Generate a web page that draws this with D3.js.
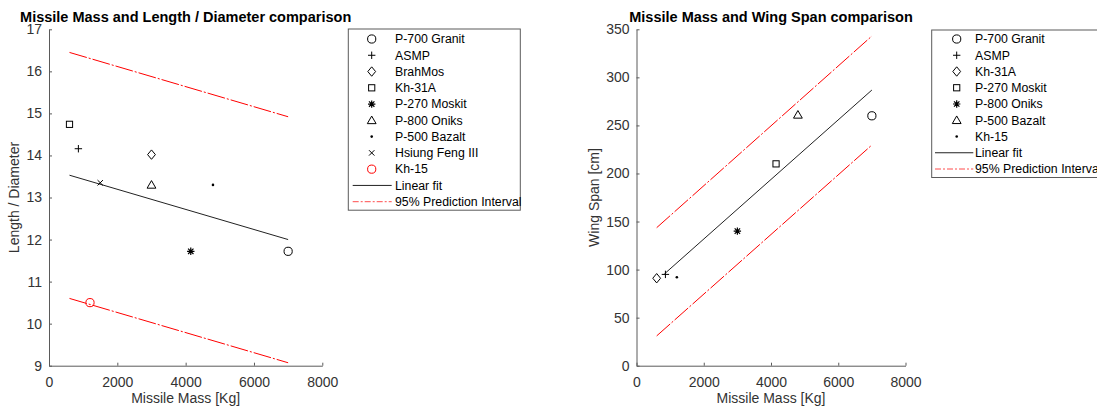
<!DOCTYPE html>
<html>
<head>
<meta charset="utf-8">
<script src="https://cdn.jsdelivr.net/npm/d3@7"></script>
<style>
  html, body { margin: 0; padding: 0; background: #fff; }
  svg { display: block; font-family: "Liberation Sans", Arial, Helvetica, sans-serif; }
</style>
</head>
<body>
<svg id="chart" width="1097" height="407"></svg>
<script>
// ---------- DATA ----------
const leftNames   = ["P-700 Granit", "ASMP", "BrahMos", "Kh-31A", "P-270 Moskit", "P-800 Oniks", "P-500 Bazalt", "Hsiung Feng III", "Kh-15"];
const leftMass    = [7000, 860, 3000, 600, 4150, 3000, 4800, 1500, 1200];
const leftLD      = [11.72, 14.16, 14.02, 14.74, 11.72, 13.3, 13.3, 13.35, 10.5];
const leftFitMass = [600, 7000];
const leftFitLD   = [13.53, 12.0];
const leftPIMass  = [600, 7000];
const leftPIUpper = [16.45, 14.92];
const leftPILower = [10.6, 9.07];
const leftXTicks  = [0, 2000, 4000, 6000, 8000];
const leftYTicks  = [9, 10, 11, 12, 13, 14, 15, 16, 17];

const rightNames    = ["P-700 Granit", "ASMP", "Kh-31A", "P-270 Moskit", "P-800 Oniks", "P-500 Bazalt", "Kh-15"];
const rightMass     = [7000, 860, 600, 4150, 3000, 4800, 1200];
const rightSpan     = [260, 95, 91, 210, 140, 261, 92];
const rightFitMass  = [830, 7000];
const rightFitSpan  = [95.5, 286.8];
const rightPIMass   = [600, 7000];
const rightPIUpper  = [143.6, 343];
const rightPILower  = [31, 229.6];
const rightXTicks   = [0, 2000, 4000, 6000, 8000];
const rightYTicks   = [0, 50, 100, 150, 200, 250, 300, 350];

const fitLabel = "Linear fit";
const piLabel  = "95% Prediction Interval";

// ---------- STYLE ----------
const leftSymbols  = ["circle", "plus", "diamond", "square", "star", "triangle", "dot", "x", "circle"];
const leftColors   = ["#000", "#000", "#000", "#000", "#000", "#000", "#000", "#000", "#ff0000"];
const rightSymbols = ["circle", "plus", "diamond", "square", "star", "triangle", "dot"];
const rightColors  = ["#000", "#000", "#000", "#000", "#000", "#000", "#000"];
const RED = "#ff0000";
const DASHDOT = "18,2,2,2";
const AXIS_COLOR = "#5a5a5a";
const TEXT_COLOR = "#333";

const svg = d3.select("#chart");

function drawMarker(g, type, x, y, color) {
  const m = g.append("g").attr("transform", `translate(${x},${y})`)
    .attr("fill", "none").attr("stroke", color).attr("stroke-width", 1);
  switch (type) {
    case "circle":
      m.append("circle").attr("r", 4.1); break;
    case "plus":
      m.append("path").attr("d", "M-3.7,0H3.7M0,-3.7V3.7"); break;
    case "diamond":
      m.append("path").attr("d", "M0,-4.7L3.9,0L0,4.7L-3.9,0Z"); break;
    case "square":
      m.append("rect").attr("x", -3.1).attr("y", -3.1).attr("width", 6.2).attr("height", 6.2); break;
    case "star":
      m.append("path").attr("d", "M-3.7,0H3.7M0,-3.7V3.7M-2.7,-2.7L2.7,2.7M-2.7,2.7L2.7,-2.7").attr("stroke-width", 1.2); break;
    case "triangle":
      m.append("path").attr("d", "M0,-4.3L4.4,3.3L-4.4,3.3Z"); break;
    case "dot":
      m.append("circle").attr("r", 1.3).attr("fill", color).attr("stroke", "none"); break;
    case "x":
      m.append("path").attr("d", "M-2.7,-2.7L2.7,2.7M-2.7,2.7L2.7,-2.7"); break;
  }
}

function drawPanel(cfg) {
  const x = d3.scaleLinear().domain(cfg.xDomain).range(cfg.xRange);
  const y = d3.scaleLinear().domain(cfg.yDomain).range(cfg.yRange);
  const g = svg.append("g");

  // axes
  const xAxis = d3.axisBottom(x).tickValues(cfg.xTicks).tickSizeInner(-3).tickSizeOuter(0).tickPadding(11).tickFormat(d3.format("d"));
  const yAxis = d3.axisLeft(y).tickValues(cfg.yTicks).tickSizeInner(-3).tickSizeOuter(0).tickPadding(7).tickFormat(d3.format("d"));
  const gx = g.append("g").attr("transform", `translate(0,${cfg.yRange[0]})`).call(xAxis);
  const gy = g.append("g").attr("transform", `translate(${cfg.xRange[0]},0)`).call(yAxis);
  [gx, gy].forEach(a => {
    a.select(".domain").attr("stroke", AXIS_COLOR);
    a.selectAll(".tick line").attr("stroke", AXIS_COLOR);
    a.selectAll(".tick text").attr("fill", TEXT_COLOR).style("font-size", "14px");
  });

  // lines
  const line = d3.line().x(d => x(d[0])).y(d => y(d[1]));
  g.append("path").datum(cfg.piMass.map((m, i) => [m, cfg.piUpper[i]]))
    .attr("d", line).attr("fill", "none").attr("stroke", RED).attr("stroke-width", 1).attr("stroke-dasharray", DASHDOT);
  g.append("path").datum(cfg.piMass.map((m, i) => [m, cfg.piLower[i]]))
    .attr("d", line).attr("fill", "none").attr("stroke", RED).attr("stroke-width", 1).attr("stroke-dasharray", DASHDOT);
  g.append("path").datum(cfg.fitMass.map((m, i) => [m, cfg.fitVal[i]]))
    .attr("d", line).attr("fill", "none").attr("stroke", "#222").attr("stroke-width", 1);

  // markers
  cfg.mass.forEach((m, i) => drawMarker(g, cfg.symbols[i], x(m), y(cfg.vals[i]), cfg.colors[i]));

  // title and labels
  const cx = (cfg.xRange[0] + cfg.xRange[1]) / 2;
  const cy = (cfg.yRange[0] + cfg.yRange[1]) / 2;
  g.append("text").attr("x", cx).attr("y", 21.5).attr("text-anchor", "middle")
    .style("font-size", "14.5px").style("font-weight", "bold").attr("fill", "#000").text(cfg.title);
  g.append("text").attr("x", cx).attr("y", 403).attr("text-anchor", "middle")
    .style("font-size", "14px").attr("fill", TEXT_COLOR).text(cfg.xLabel);
  g.append("text").attr("transform", `translate(${cfg.yLabelX},${cy}) rotate(-90)`).attr("text-anchor", "middle")
    .style("font-size", "14px").attr("fill", TEXT_COLOR).text(cfg.yLabel);

  // legend
  const L = cfg.legend;
  const rows = cfg.names.length + 2;
  const leg = svg.append("g");
  leg.append("rect").attr("x", L.x).attr("y", L.y).attr("width", L.w)
    .attr("height", L.firstRow - L.y + (rows - 1) * L.step + 8.5)
    .attr("fill", "#fff").attr("stroke", AXIS_COLOR).attr("stroke-width", 1);
  cfg.names.forEach((n, i) => {
    const ry = L.firstRow + i * L.step;
    drawMarker(leg, cfg.symbols[i], L.symX, ry, cfg.colors[i]);
    leg.append("text").attr("x", L.textX).attr("y", ry + 4.3).style("font-size", "12.3px").attr("fill", "#000").text(n);
  });
  const fy = L.firstRow + cfg.names.length * L.step;
  leg.append("line").attr("x1", L.lineX1).attr("x2", L.lineX2).attr("y1", fy).attr("y2", fy)
    .attr("stroke", "#222").attr("stroke-width", 1);
  leg.append("text").attr("x", L.textX).attr("y", fy + 4.3).style("font-size", "12.3px").attr("fill", "#000").text(fitLabel);
  const py = fy + L.step;
  leg.append("line").attr("x1", L.lineX1).attr("x2", L.lineX2).attr("y1", py).attr("y2", py)
    .attr("stroke", RED).attr("stroke-opacity", 0.7).attr("stroke-width", 1).attr("stroke-dasharray", "6,2,2,2");
  leg.append("text").attr("x", L.textX).attr("y", py + 4.3).style("font-size", "12.3px").attr("fill", "#000").text(piLabel);
}

drawPanel({
  xDomain: [0, 8000], xRange: [49, 322.3],
  yDomain: [9, 17], yRange: [365.7, 29.3],
  xTicks: leftXTicks, yTicks: leftYTicks,
  names: leftNames, mass: leftMass, vals: leftLD, symbols: leftSymbols, colors: leftColors,
  fitMass: leftFitMass, fitVal: leftFitLD, piMass: leftPIMass, piUpper: leftPIUpper, piLower: leftPILower,
  title: "Missile Mass and Length / Diameter comparison",
  xLabel: "Missile Mass [Kg]", yLabel: "Length / Diameter", yLabelX: 19,
  legend: { x: 348.3, y: 29, w: 172, firstRow: 39, step: 16.27, symX: 371.7, textX: 395, lineX1: 352.7, lineX2: 391.7 }
});

drawPanel({
  xDomain: [0, 8000], xRange: [636.5, 905.5],
  yDomain: [0, 350], yRange: [365.7, 29.3],
  xTicks: rightXTicks, yTicks: rightYTicks,
  names: rightNames, mass: rightMass, vals: rightSpan, symbols: rightSymbols, colors: rightColors,
  fitMass: rightFitMass, fitVal: rightFitSpan, piMass: rightPIMass, piUpper: rightPIUpper, piLower: rightPILower,
  title: "Missile Mass and Wing Span comparison",
  xLabel: "Missile Mass [Kg]", yLabel: "Wing Span [cm]", yLabelX: 599,
  legend: { x: 931.7, y: 30, w: 180, firstRow: 39, step: 16.25, symX: 956.7, textX: 975, lineX1: 935, lineX2: 973.3 }
});
</script>
</body>
</html>
